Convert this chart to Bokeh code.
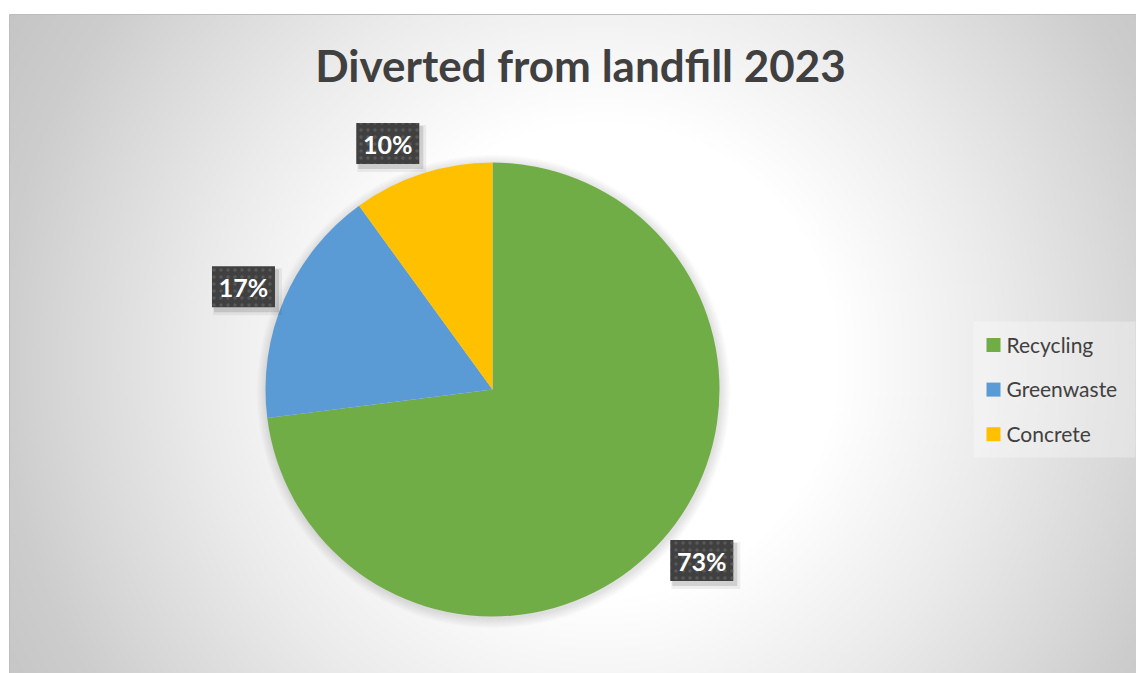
import numpy as np
from bokeh.plotting import figure
from bokeh.models import Range1d
from bokeh.core.properties import value
from bokeh.embed import file_html
from bokeh.resources import INLINE

# ---- data ----
categories = ["Recycling", "Greenwaste", "Concrete"]
shares = [73, 17, 10]
colors = ["#70AD47", "#5B9BD5", "#FFC000"]
title_text = "Diverted from landfill 2023"

# ---- layout (page px; figure sits at 0,0) ----
W, H = 1136, 673
def dx(x):  # page x -> data x
    return x
def dy(y):  # page y -> data y (y up)
    return H - y

p = figure(width=W, height=H, output_backend="svg", toolbar_location=None,
           x_range=Range1d(0, W), y_range=Range1d(0, H), min_border=0)
p.axis.visible = False
p.grid.visible = False
p.outline_line_color = None
p.background_fill_color = "white"
p.border_fill_color = "white"

# ---- background radial gradient (style) ----
bx0, by0, bx1, by1 = 9, 14, 1136, 673
step = 2
nx = (bx1 - bx0) // step + 1
ny = (by1 - by0) // step + 1
xs = bx0 + (np.arange(nx) + 0.5) * step
ys = by0 + (np.arange(ny) + 0.5) * step
XX, YY = np.meshgrid(xs, ys)
gcx, gcy = 600, 360
dist = np.hypot(XX - gcx, YY - gcy)
g = np.interp(dist, [0, 240, 400, 530, 600, 700], [255, 255, 235, 216, 205, 196]).astype(np.uint32)
img = (255 << 24) | (g << 16) | (g << 8) | g
img = img[::-1].copy().view(np.uint32)
p.image_rgba(image=[img], x=dx(bx0), y=dy(by0) - ny * step, dw=nx * step, dh=ny * step)
p.segment(x0=[dx(bx0), dx(bx0)], y0=[dy(by0), dy(by0)], x1=[dx(bx1), dx(bx0)], y1=[dy(by0), dy(by1)],
          line_color="#bdbdbd", line_width=1)

# ---- title ----
p.text(x=[dx(580)], y=[dy(64)], text=[title_text], text_align="center", text_baseline="middle",
       text_font=value("Lato"), text_font_style="bold", text_font_size="44px", text_color="#404040")

# ---- pie ----
cx, cy, R = dx(492), dy(389), 227
# soft shadow
for k in range(1, 11):
    p.circle(x=[cx + 1], y=[cy - 2], radius=R + k, fill_color="black", fill_alpha=0.010, line_color=None)

total = float(sum(shares))
fr = np.array(shares) / total
cum1 = np.cumsum(fr)
cum0 = cum1 - fr
starts = np.pi / 2 - 2 * np.pi * cum0
ends = np.pi / 2 - 2 * np.pi * cum1
p.wedge(x=cx, y=cy, radius=R, start_angle=starts, end_angle=ends, direction="clock",
        fill_color=colors, line_color=None)

# ---- data labels ----
bw, bh = 63, 41
lr = R + 10
mids = 2 * np.pi * (cum0 + cum1) / 2  # clockwise from top
lx, ly = [], []
for m in mids:
    ux, uy = np.sin(m), np.cos(m)
    ax, ay = cx + lr * ux, cy + lr * uy
    lx.append(ax + bw / 2 * np.clip(ux / 0.3, -1, 1))
    ly.append(ay + bh / 2 * np.clip(uy / 0.95, -1, 1))
labels = [f"{s}%" for s in shares]
# shadows
p.rect(x=[v + 4 for v in lx], y=[v - 5 for v in ly], width=bw + 6, height=bh + 6,
       fill_color="black", fill_alpha=0.06, line_color=None)
p.rect(x=[v + 3 for v in lx], y=[v - 4 for v in ly], width=bw + 2, height=bh + 2,
       fill_color="black", fill_alpha=0.12, line_color=None)
p.rect(x=lx, y=ly, width=bw, height=bh, fill_color="#404040", line_color=None,
       hatch_pattern="dot", hatch_color="#585858", hatch_scale=7, hatch_weight=2)
p.text(x=lx, y=ly, text=labels, text_align="center", text_baseline="middle",
       text_font=value("Lato"), text_font_style="bold", text_font_size="25px", text_color="white")

# ---- legend ----
p.quad(left=[dx(973)], right=[dx(1135)], top=[dy(321)], bottom=[dy(457)],
       fill_color="white", fill_alpha=0.3, line_color=None)
row0, gap = dy(343.5), 44.6
rows = [row0 - i * gap for i in range(len(categories))]
p.rect(x=[dx(993)] * len(categories), y=[r - 1 for r in rows], width=14, height=14,
       fill_color=colors, line_color=None)
p.text(x=[dx(1006)] * len(categories), y=rows, text=categories, text_align="left", text_baseline="middle",
       text_font=value("Lato"), text_font_size="21px", text_color="#404040")

open("out.html", "w").write(file_html(p, INLINE))
